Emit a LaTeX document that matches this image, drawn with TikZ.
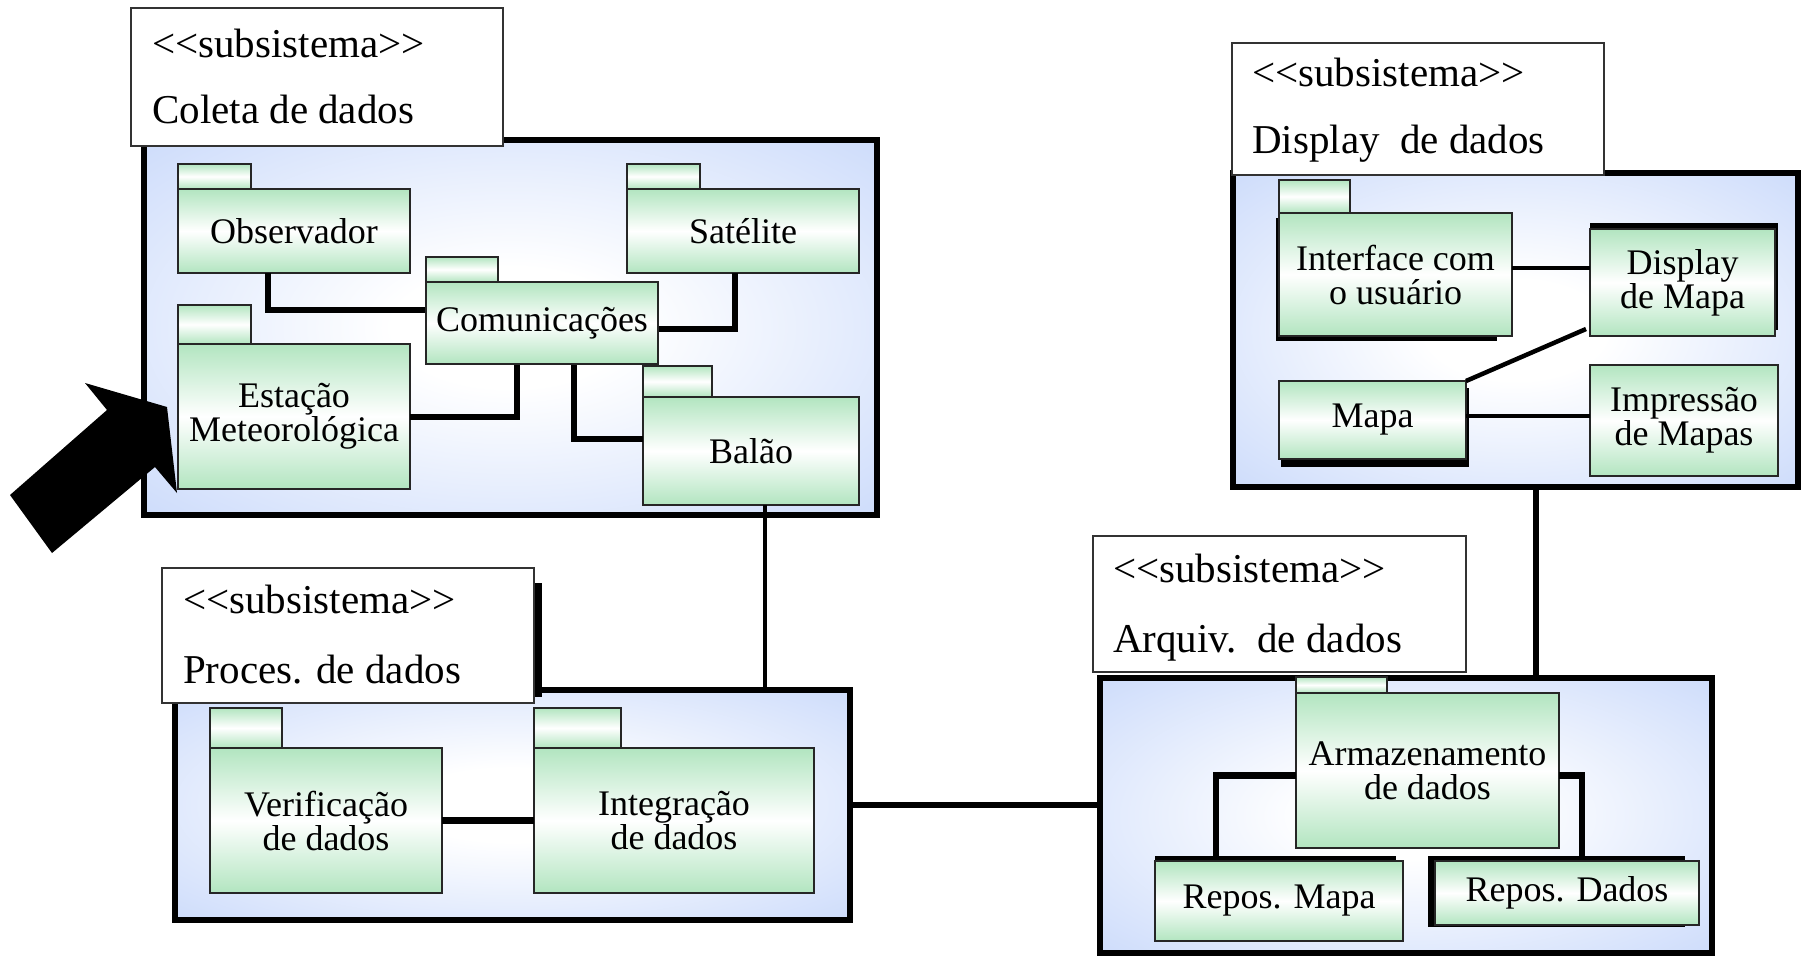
\documentclass[tikz,border=0pt]{standalone}
\usepackage{fontspec}
\setmainfont{Liberation Serif}
\usetikzlibrary{calc}

\definecolor{contblue}{RGB}{194,212,250}
\definecolor{pkggreen}{RGB}{178,229,192}
\pgfdeclareradialshading{contshade}{\pgfpointorigin}{color(0bp)=(white); color(8bp)=(white); color(42bp)=(contblue); color(75bp)=(contblue)}

\newcommand\pkgfont{\fontsize{36}{34}\selectfont}
\newcommand\lblfont{\fontsize{41}{42}\selectfont}

% rectangle node from its corners: style, name, x1, y1, x2, y2, text
\newcommand\rbox[7]{\node[#1, minimum width={(#5)-(#3)}, minimum height={(#6)-(#4)}] (#2) at ({((#3)+(#5))/2},{((#4)+(#6))/2}) {#7};}

\tikzset{
  cont/.style={rectangle, draw=black, line width=6.5pt, shade, shading=contshade, inner sep=0pt, outer sep=0pt},
  lblbox/.style={rectangle, draw=black!80, line width=2pt, fill=white, inner sep=0pt, outer sep=0pt},
  lbltext/.style={anchor=base west, inner sep=0pt, font=\lblfont},
  pkgbody/.style={rectangle, draw=black!85, line width=1.6pt, top color=pkggreen, bottom color=pkggreen, middle color=white, inner sep=0pt, outer sep=0pt, align=center, font=\pkgfont},
  pkgtab/.style={pkgbody},
  pkgshadow/.style={rectangle, fill=black, inner sep=0pt, outer sep=0pt},
  conn/.style={line width=4.5pt, black},
  heavyconn/.style={conn, line width=6.5pt},
}

\begin{document}
\begin{tikzpicture}[x=1pt, y=-1pt]
\useasboundingbox (0,0) rectangle (1805,956);

% ---------- Coleta de dados ----------
\rbox{cont}{col}{144}{140}{877}{515}{}
\rbox{lblbox}{col-lbl}{131}{8}{503}{146}{}
\node[lbltext] (col-st) at (152,57) {<{}<subsistema>{}>};
\node[lbltext] (col-nm) at (152,123) {Coleta de dados};

\rbox{pkgtab}{obs-tab}{178}{164}{251}{189}{}
\rbox{pkgbody}{obs}{178}{189}{410}{273}{Observador}
\rbox{pkgtab}{sat-tab}{627}{164}{700}{189}{}
\rbox{pkgbody}{sat}{627}{189}{859}{273}{Satélite}
\rbox{pkgtab}{est-tab}{178}{305}{251}{344}{}
\rbox{pkgbody}{est}{178}{344}{410}{489}{Estação\\Meteorológica}
\rbox{pkgtab}{bal-tab}{643}{366}{712}{397}{}
\rbox{pkgbody}{bal}{643}{397}{859}{505}{Balão}

\draw[heavyconn] ($(obs.south west)+(90,0)$) |- ($(col.north west)+(282,170)$) coordinate (c-obs);
\draw[heavyconn] ($(sat.south west)+(108,0)$) |- ($(col.north west)+(514,189)$) coordinate (c-sat);
\draw[heavyconn] ($(col.north west)+(373,224)$) coordinate (c-est) |- ($(est.north east)+(0,73)$);
\draw[heavyconn] ($(col.north west)+(430,224)$) coordinate (c-bal) |- ($(bal.north west)+(0,42)$);

\rbox{pkgtab}{com-tab}{426}{257}{498}{282}{}
\rbox{pkgbody}{com}{426}{282}{658}{364}{Comunicações}

% ---------- Display de dados ----------
\rbox{cont}{disp}{1233}{173}{1798}{487}{}
\rbox{lblbox}{disp-lbl}{1232}{43}{1604}{175}{}
\node[lbltext] (disp-st) at (1252,86) {<{}<subsistema>{}>};
\node[lbltext] (disp-nm) at (1252,153) {Display~~de dados};

\rbox{pkgshadow}{ifc-sh}{1276}{218}{1497}{341}{}
\rbox{pkgtab}{ifc-tab}{1279}{180}{1350}{213}{}
\rbox{pkgbody}{ifc}{1279}{213}{1512}{336}{Interface com\\o usuário}
\rbox{pkgshadow}{dm-sh}{1590}{223}{1778}{330}{}
\rbox{pkgbody}{dm}{1590}{229}{1775}{336}{Display\\de Mapa}
\rbox{pkgshadow}{map-sh}{1281}{388}{1469}{467}{}
\rbox{pkgbody}{map}{1279}{381}{1466}{459}{Mapa}
\rbox{pkgbody}{imp}{1590}{365}{1778}{476}{Impressão\\de Mapas}

\draw[conn] ($(ifc.north east)+(0,55)$) coordinate (d-ifc) -- (d-ifc -| dm.west);
\draw[conn] (map.north east) -- ($(dm.south west)+(-4,-7)$);
\draw[conn] ($(map.north east)+(0,35)$) coordinate (d-map) -- (d-map -| imp.west);

% ---------- Proces. de dados ----------
\rbox{cont}{proc}{175}{690}{850}{920}{}
\rbox{pkgshadow}{proc-sh}{170}{583}{542}{697}{}
\rbox{lblbox}{proc-lbl}{162}{568}{534}{703}{}
\node[lbltext] (proc-st) at (183,613) {<{}<subsistema>{}>};
\node[lbltext] (proc-nm) at (183,683) {Proces. de dados};

\rbox{pkgtab}{ver-tab}{210}{708}{282}{748}{}
\rbox{pkgbody}{ver}{210}{748}{442}{893}{Verificação\\de dados}
\rbox{pkgtab}{int-tab}{534}{708}{621}{748}{}
\rbox{pkgbody}{int}{534}{748}{814}{893}{Integração\\de dados}

\draw[heavyconn] (ver.east) -- (ver.east -| int.west);

% ---------- Arquiv. de dados ----------
\rbox{cont}{arq}{1100}{678}{1712}{953}{}
\rbox{lblbox}{arq-lbl}{1093}{536}{1466}{672}{}
\node[lbltext] (arq-st) at (1113,582) {<{}<subsistema>{}>};
\node[lbltext] (arq-nm) at (1113,652) {Arquiv.~~de dados};

\rbox{pkgtab}{arm-tab}{1296}{677}{1387}{693}{}
\rbox{pkgbody}{arm}{1296}{693}{1559}{848}{Armazenamento\\de dados}
\rbox{pkgshadow}{rmap-sh}{1155}{856}{1396}{936}{}
\rbox{pkgbody}{rmap}{1155}{861}{1403}{941}{Repos. Mapa}
\rbox{pkgshadow}{rdat-sh}{1428}{856}{1685}{927}{}
\rbox{pkgbody}{rdat}{1435}{861}{1699}{925}{Repos. Dados}

\draw[heavyconn] ($(arm.west)+(0,5)$) -| ($(rmap.north west)+(61,-5)$);
\draw[heavyconn] ($(arm.east)+(0,5)$) -| ($(rdat.north west)+(147,-5)$);

% ---------- links between subsystems ----------
\draw[conn] ($(bal.south west)+(122,0)$) coordinate (l-bal) -- (l-bal |- proc.north);
\draw[heavyconn] ($(disp.south west)+(303,0)$) coordinate (l-disp) -- (l-disp |- arq.north);
\draw[heavyconn] ($(proc.north east)+(0,115)$) coordinate (l-proc) -- (l-proc -| arq.west);

% ---------- pointer ----------
\fill[black] (52,553) -- (10,495) -- (107,410) -- (85,383) -- (167,407) -- (177,493) -- (155,467) -- cycle;
\end{tikzpicture}
\end{document}
